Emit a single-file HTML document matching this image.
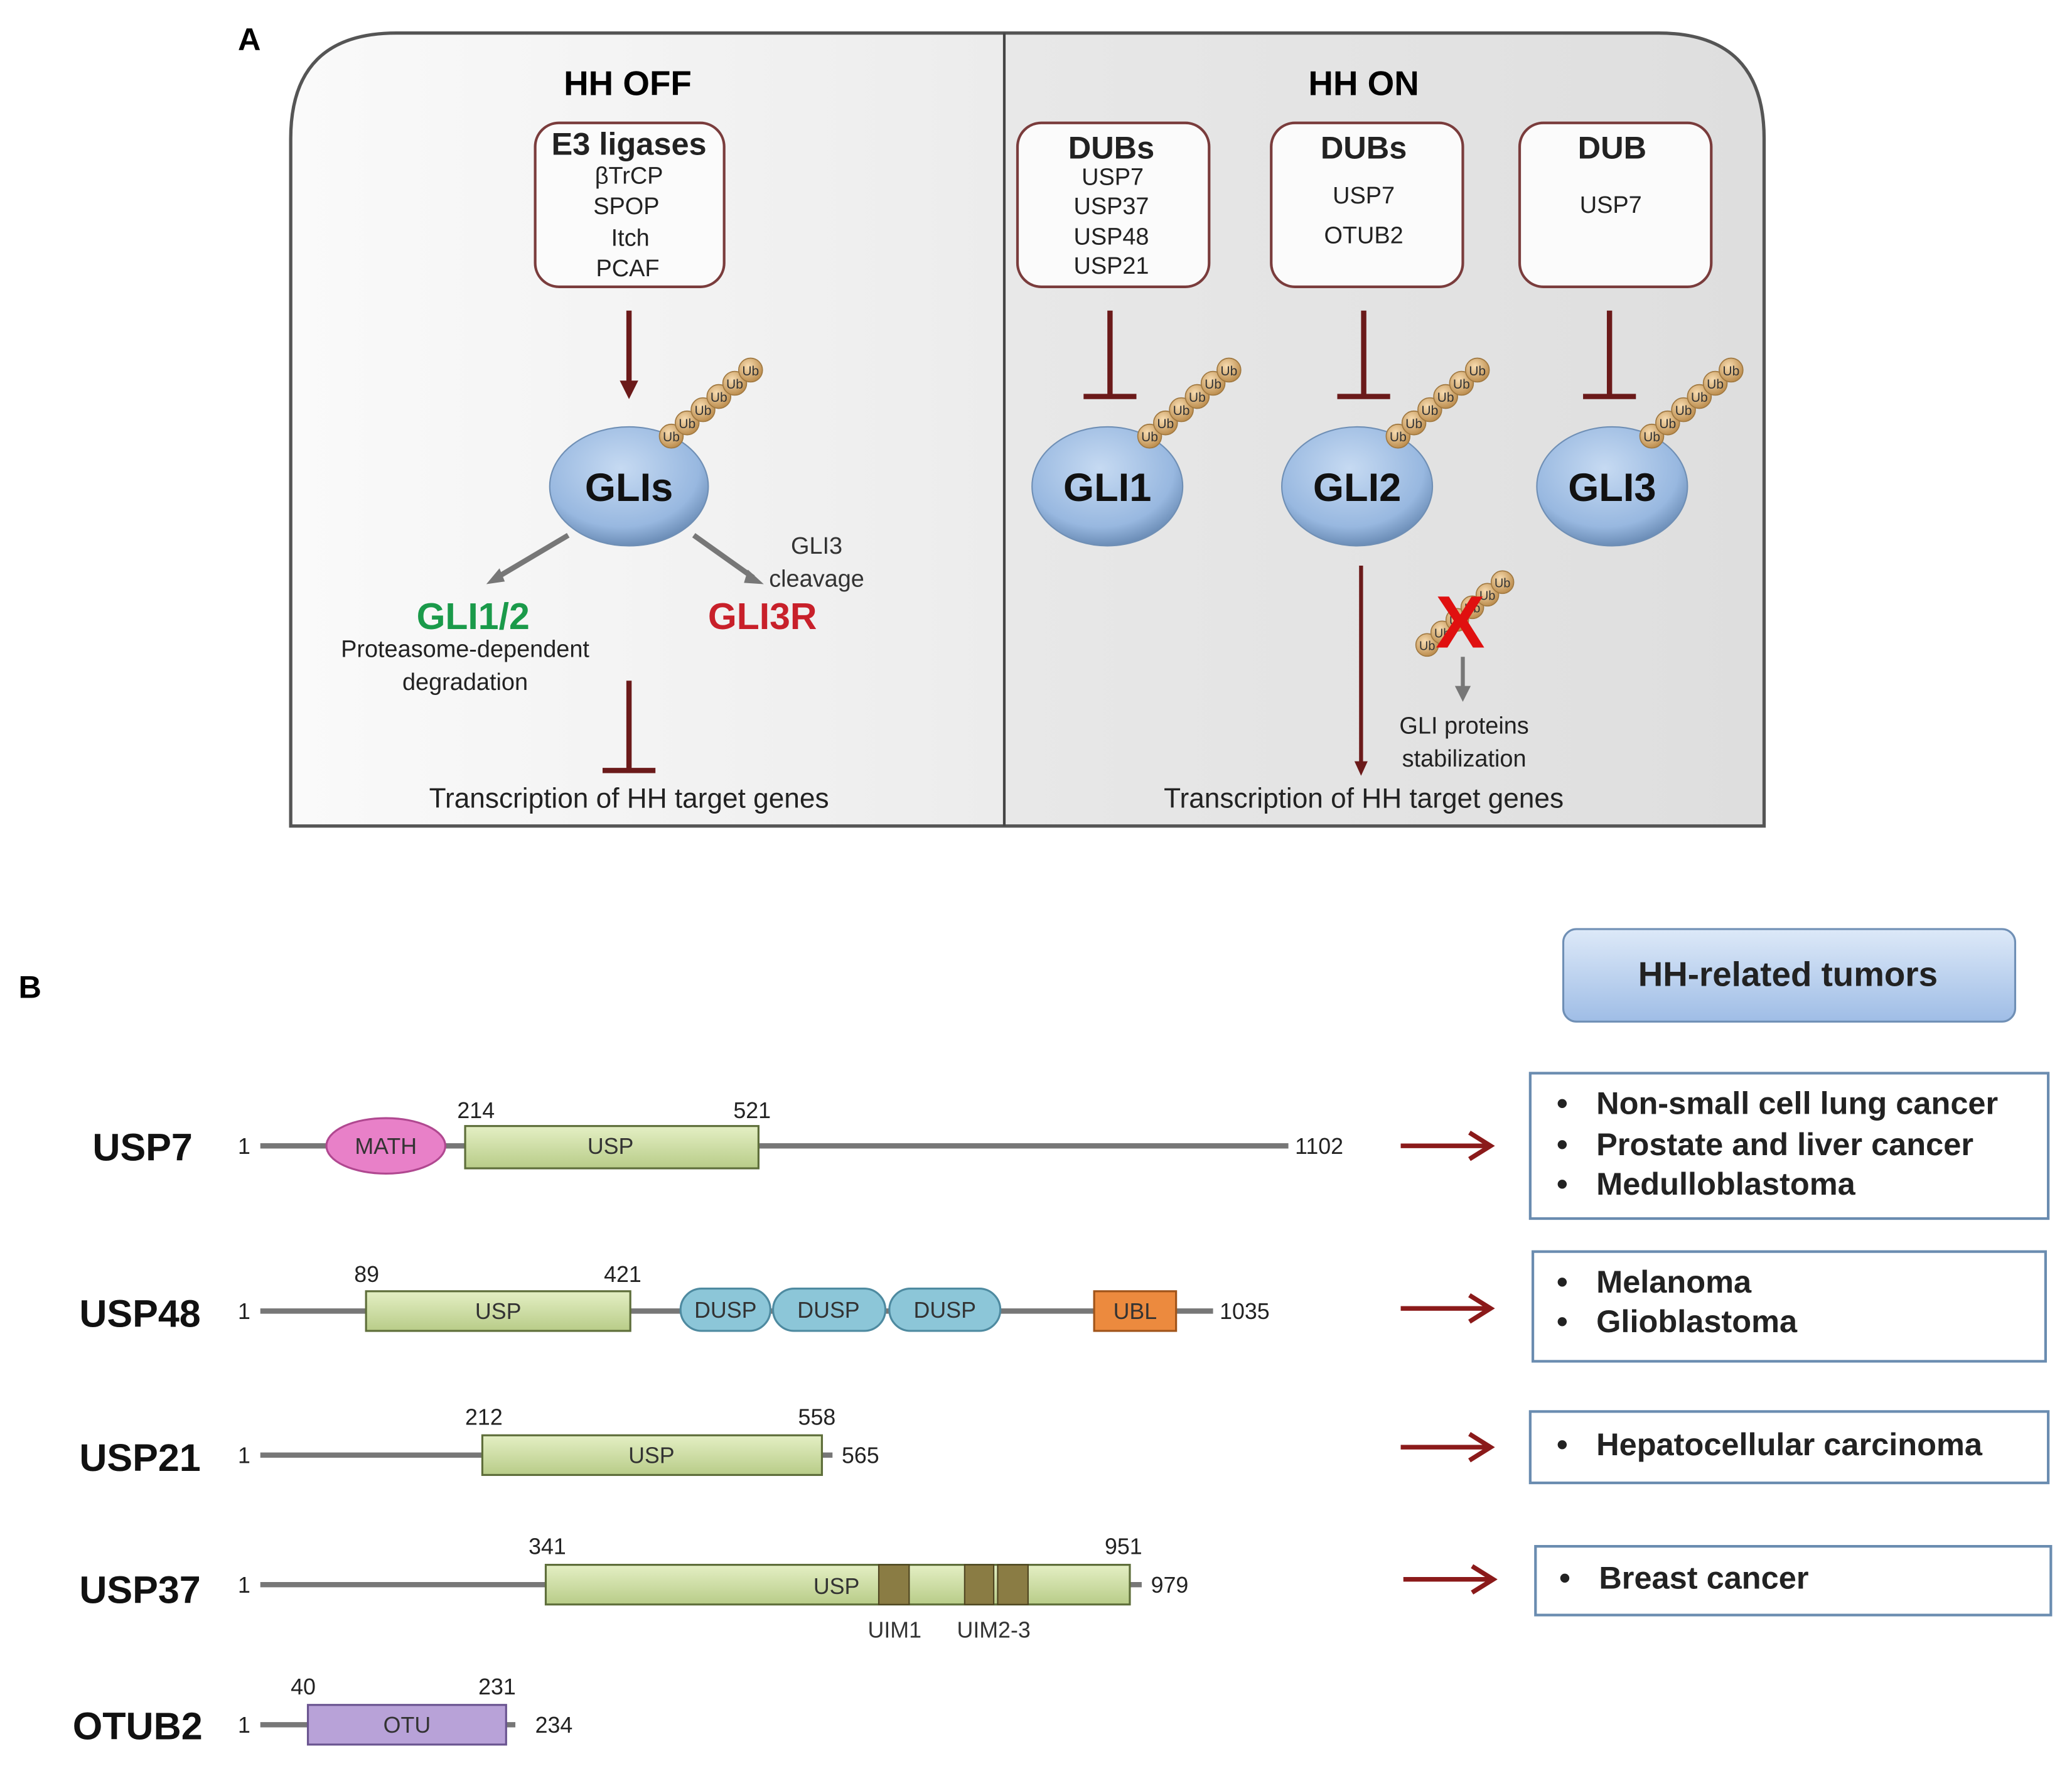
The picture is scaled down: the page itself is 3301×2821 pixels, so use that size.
<!DOCTYPE html>
<html><head><meta charset="utf-8"><style>
html,body{margin:0;padding:0;background:#fff}
svg{display:block}
text{font-family:"Liberation Sans",sans-serif}
</style></head><body>
<svg width="3301" height="2821" viewBox="0 0 1568 1340" xmlns="http://www.w3.org/2000/svg">
<defs>
<linearGradient id="lp" x1="0" x2="1"><stop offset="0" stop-color="#fafafa"/><stop offset="1" stop-color="#ececec"/></linearGradient>
<linearGradient id="rp" x1="0" x2="1"><stop offset="0" stop-color="#e8e8e8"/><stop offset="1" stop-color="#dedede"/></linearGradient>
<radialGradient id="gli" cx="0.45" cy="0.35" r="0.7"><stop offset="0" stop-color="#c6daf2"/><stop offset="0.7" stop-color="#98b8e0"/><stop offset="1" stop-color="#5e80aa"/></radialGradient>
<radialGradient id="ub" cx="0.4" cy="0.35" r="0.7"><stop offset="0" stop-color="#f8dcb0"/><stop offset="1" stop-color="#b88848"/></radialGradient>
<linearGradient id="usp" x1="0" y1="0" x2="0" y2="1"><stop offset="0" stop-color="#e4efc4"/><stop offset="1" stop-color="#b8cc88"/></linearGradient>
<linearGradient id="hh" x1="0" y1="0" x2="0" y2="1"><stop offset="0" stop-color="#dde9f8"/><stop offset="1" stop-color="#9fbde6"/></linearGradient>
<g id="chain">
<circle cx="0" cy="0" r="9" fill="url(#ub)" stroke="#a07840" stroke-width="0.8"/>
<circle cx="12" cy="-10" r="9" fill="url(#ub)" stroke="#a07840" stroke-width="0.8"/>
<circle cx="24" cy="-20" r="9" fill="url(#ub)" stroke="#a07840" stroke-width="0.8"/>
<circle cx="36" cy="-30" r="9" fill="url(#ub)" stroke="#a07840" stroke-width="0.8"/>
<circle cx="48" cy="-40" r="9" fill="url(#ub)" stroke="#a07840" stroke-width="0.8"/>
<circle cx="60" cy="-50" r="9" fill="url(#ub)" stroke="#a07840" stroke-width="0.8"/>
<text x="0" y="4" font-size="10" text-anchor="middle" fill="#333">Ub</text>
<text x="12" y="-6" font-size="10" text-anchor="middle" fill="#333">Ub</text>
<text x="24" y="-16" font-size="10" text-anchor="middle" fill="#333">Ub</text>
<text x="36" y="-26" font-size="10" text-anchor="middle" fill="#333">Ub</text>
<text x="48" y="-36" font-size="10" text-anchor="middle" fill="#333">Ub</text>
<text x="60" y="-46" font-size="10" text-anchor="middle" fill="#333">Ub</text>
</g>
</defs>
<rect width="1568" height="1340" fill="#fff"/>
<text x="180" y="38" font-size="24" font-weight="bold">A</text>
<!-- panel -->
<path d="M300 25 H760 V625 H220 V105 Q220 25 300 25Z" fill="url(#lp)"/>
<path d="M760 25 H1255 Q1335 25 1335 105 V625 H760Z" fill="url(#rp)"/>
<path d="M300 25 H1255 Q1335 25 1335 105 V625 H220 V105 Q220 25 300 25Z" fill="none" stroke="#555" stroke-width="2.5"/>
<line x1="760" y1="25" x2="760" y2="625" stroke="#444" stroke-width="2"/>
<text x="475" y="72" font-size="26" font-weight="bold" text-anchor="middle">HH OFF</text>
<text x="1032" y="72" font-size="26" font-weight="bold" text-anchor="middle">HH ON</text>
<g fill="#fbfbfb" stroke="#7a3c3c" stroke-width="2">
<rect x="405" y="93" width="143" height="124" rx="18"/>
<rect x="770" y="93" width="145" height="124" rx="18"/>
<rect x="962" y="93" width="145" height="124" rx="18"/>
<rect x="1150" y="93" width="145" height="124" rx="18"/>
</g>
<g text-anchor="middle" fill="#222">
<text x="476" y="117" font-size="24" font-weight="bold">E3 ligases</text>
<text x="476" y="139" font-size="18">βTrCP</text>
<text x="474" y="162" font-size="18">SPOP</text>
<text x="477" y="186" font-size="18">Itch</text>
<text x="475" y="209" font-size="18">PCAF</text>
<text x="841" y="120" font-size="24" font-weight="bold">DUBs</text>
<text x="842" y="140" font-size="18">USP7</text>
<text x="841" y="162" font-size="18">USP37</text>
<text x="841" y="185" font-size="18">USP48</text>
<text x="841" y="207" font-size="18">USP21</text>
<text x="1032" y="120" font-size="24" font-weight="bold">DUBs</text>
<text x="1032" y="154" font-size="18">USP7</text>
<text x="1032" y="184" font-size="18">OTUB2</text>
<text x="1220" y="120" font-size="24" font-weight="bold">DUB</text>
<text x="1219" y="161" font-size="18">USP7</text>
</g>
<!-- arrows -->
<line x1="476" y1="235" x2="476" y2="292" stroke="#6b1a1a" stroke-width="4"/>
<path d="M469 288 L476 302 L483 288Z" fill="#6b1a1a"/>
<g stroke="#6b1a1a" stroke-width="4">
<line x1="840" y1="235" x2="840" y2="300"/><line x1="820" y1="300" x2="860" y2="300"/>
<line x1="1032" y1="235" x2="1032" y2="300"/><line x1="1012" y1="300" x2="1052" y2="300"/>
<line x1="1218" y1="235" x2="1218" y2="300"/><line x1="1198" y1="300" x2="1238" y2="300"/>
<line x1="476" y1="515" x2="476" y2="583"/><line x1="456" y1="583" x2="496" y2="583"/>
<line x1="1030" y1="428" x2="1030" y2="578" stroke-width="3"/>
</g>
<path d="M1025 576 L1030 587 L1035 576Z" fill="#6b1a1a"/>
<!-- GLIs -->
<ellipse cx="476" cy="368" rx="60" ry="45" fill="url(#gli)" stroke="#6f8fb5"/>
<ellipse cx="838" cy="368" rx="57" ry="45" fill="url(#gli)" stroke="#6f8fb5"/>
<ellipse cx="1027" cy="368" rx="57" ry="45" fill="url(#gli)" stroke="#6f8fb5"/>
<ellipse cx="1220" cy="368" rx="57" ry="45" fill="url(#gli)" stroke="#6f8fb5"/>
<use href="#chain" x="508" y="330"/>
<use href="#chain" x="870" y="330"/>
<use href="#chain" x="1058" y="330"/>
<use href="#chain" x="1250" y="330"/>
<g font-size="30" font-weight="bold" text-anchor="middle" fill="#111">
<text x="476" y="379">GLIs</text><text x="838" y="379">GLI1</text><text x="1027" y="379">GLI2</text><text x="1220" y="379">GLI3</text>
</g>
<g stroke="#777" stroke-width="4"><line x1="430" y1="405" x2="376" y2="437"/><line x1="525" y1="405" x2="570" y2="437"/></g>
<path d="M368 442 L378 430 L382 440Z" fill="#777"/><path d="M578 442 L566 431 L563 441Z" fill="#777"/>
<text x="618" y="419" font-size="18" text-anchor="middle" fill="#333">GLI3</text>
<text x="618" y="444" font-size="18" text-anchor="middle" fill="#333">cleavage</text>
<text x="358" y="476" font-size="28" font-weight="bold" text-anchor="middle" fill="#1a9a4a">GLI1/2</text>
<text x="577" y="476" font-size="28" font-weight="bold" text-anchor="middle" fill="#c8202a">GLI3R</text>
<text x="352" y="497" font-size="18" text-anchor="middle" fill="#222">Proteasome-dependent</text>
<text x="352" y="522" font-size="18" text-anchor="middle" fill="#222">degradation</text>
<text x="476" y="611" font-size="21" text-anchor="middle" fill="#222">Transcription of HH target genes</text>
<text x="1032" y="611" font-size="21" text-anchor="middle" fill="#222">Transcription of HH target genes</text>
<!-- X'd chain -->
<g transform="translate(1080,488) scale(0.95)"><use href="#chain"/></g>
<text x="1105" y="490" font-size="56" font-weight="bold" text-anchor="middle" fill="#e01010">X</text>
<line x1="1107" y1="497" x2="1107" y2="522" stroke="#777" stroke-width="3"/>
<path d="M1101 519 L1107 531 L1113 519Z" fill="#777"/>
<text x="1108" y="555" font-size="18" text-anchor="middle" fill="#222">GLI proteins</text>
<text x="1108" y="580" font-size="18" text-anchor="middle" fill="#222">stabilization</text>
<!-- B -->
<text x="14" y="755" font-size="24" font-weight="bold">B</text>
<rect x="1183" y="703" width="342" height="70" rx="10" fill="url(#hh)" stroke="#6f8fb5" stroke-width="1.5"/>
<text x="1353" y="746" font-size="26" font-weight="bold" text-anchor="middle" fill="#222">HH-related tumors</text>
<g fill="#fff" stroke="#6a8cb0" stroke-width="2">
<rect x="1158" y="812" width="392" height="110"/>
<rect x="1160" y="947" width="388" height="83"/>
<rect x="1158" y="1068" width="392" height="54"/>
<rect x="1162" y="1170" width="390" height="52"/>
</g>
<g font-size="24" font-weight="bold" fill="#222">
<text x="1178" y="843">•</text><text x="1208" y="843">Non-small cell lung cancer</text>
<text x="1178" y="874">•</text><text x="1208" y="874">Prostate and liver cancer</text>
<text x="1178" y="904">•</text><text x="1208" y="904">Medulloblastoma</text>
<text x="1178" y="978">•</text><text x="1208" y="978">Melanoma</text>
<text x="1178" y="1008">•</text><text x="1208" y="1008">Glioblastoma</text>
<text x="1178" y="1101">•</text><text x="1208" y="1101">Hepatocellular carcinoma</text>
<text x="1180" y="1202">•</text><text x="1210" y="1202">Breast cancer</text>
</g>
<g stroke="#8b1a1a" stroke-width="3.5" fill="none">
<path d="M1060 867 H1128 M1112 857 L1128 867 L1112 877"/>
<path d="M1060 990 H1128 M1112 980 L1128 990 L1112 1000"/>
<path d="M1060 1095 H1128 M1112 1085 L1128 1095 L1112 1105"/>
<path d="M1062 1195 H1130 M1114 1185 L1130 1195 L1114 1205"/>
</g>
<!-- proteins -->
<g font-size="29" font-weight="bold" fill="#111">
<text x="70" y="878">USP7</text><text x="60" y="1004">USP48</text><text x="60" y="1113">USP21</text><text x="60" y="1213">USP37</text><text x="55" y="1316">OTUB2</text>
</g>
<g stroke="#777" stroke-width="4">
<line x1="197" y1="867" x2="975" y2="867"/>
<line x1="197" y1="992" x2="918" y2="992"/>
<line x1="197" y1="1101" x2="630" y2="1101"/>
<line x1="197" y1="1199" x2="864" y2="1199"/>
<line x1="197" y1="1305" x2="390" y2="1305"/>
</g>
<g font-size="17" fill="#222">
<text x="180" y="873">1</text><text x="180" y="998">1</text><text x="180" y="1107">1</text><text x="180" y="1205">1</text><text x="180" y="1311">1</text>
<text x="980" y="873">1102</text><text x="923" y="998">1035</text><text x="637" y="1107">565</text><text x="871" y="1205">979</text><text x="405" y="1311">234</text>
<text x="346" y="846">214</text><text x="555" y="846">521</text>
<text x="268" y="970">89</text><text x="457" y="970">421</text>
<text x="352" y="1078">212</text><text x="604" y="1078">558</text>
<text x="400" y="1176">341</text><text x="836" y="1176">951</text>
<text x="220" y="1282">40</text><text x="362" y="1282">231</text>
</g>
<ellipse cx="292" cy="867" rx="45" ry="21" fill="#e880c8" stroke="#b04890" stroke-width="1.5"/>
<g stroke="#5e6e3a" stroke-width="1.5" fill="url(#usp)">
<rect x="352" y="852" width="222" height="32"/>
<rect x="277" y="977" width="200" height="30"/>
<rect x="365" y="1086" width="257" height="30"/>
<rect x="413" y="1184" width="442" height="30"/>
</g>
<g fill="#8cc6d8" stroke="#4e8aa0" stroke-width="1.5">
<rect x="515" y="975" width="68" height="32" rx="16"/>
<rect x="585" y="975" width="85" height="32" rx="16"/>
<rect x="673" y="975" width="84" height="32" rx="16"/>
</g>
<rect x="828" y="977" width="62" height="30" fill="#ec8a3e" stroke="#a0541a" stroke-width="1.5"/>
<g fill="#8a7c44" stroke="#4e4420" stroke-width="1">
<rect x="665" y="1184" width="23" height="30"/><rect x="730" y="1184" width="22" height="30"/><rect x="755" y="1184" width="23" height="30"/>
</g>
<rect x="233" y="1290" width="150" height="30" fill="#b8a2d8" stroke="#6a5490" stroke-width="1.5"/>
<g font-size="17" fill="#333" text-anchor="middle">
<text x="292" y="873">MATH</text><text x="462" y="873">USP</text><text x="377" y="998">USP</text>
<text x="549" y="997">DUSP</text><text x="627" y="997">DUSP</text><text x="715" y="997">DUSP</text><text x="859" y="998">UBL</text>
<text x="493" y="1107">USP</text><text x="633" y="1206">USP</text><text x="308" y="1311">OTU</text>
<text x="677" y="1239">UIM1</text><text x="752" y="1239">UIM2-3</text>
</g>
</svg>
</body></html>
